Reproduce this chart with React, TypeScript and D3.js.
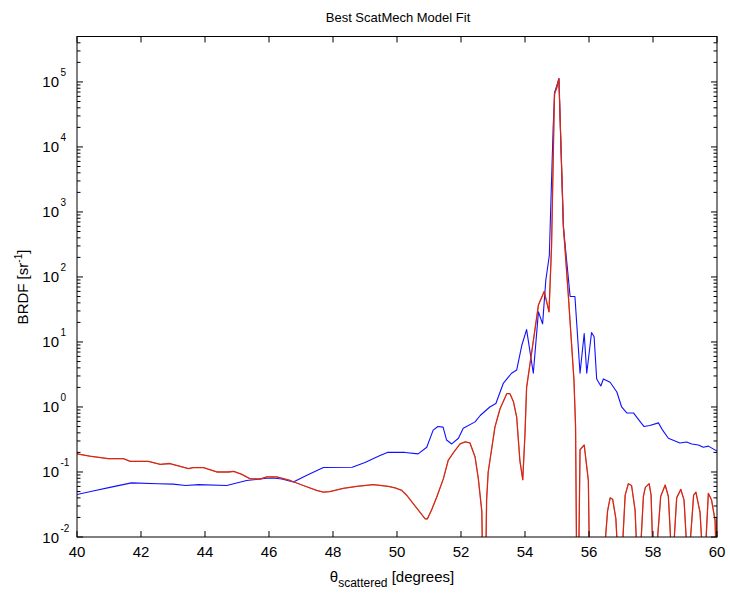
import React from 'react';
import * as d3 from 'd3';

// Measured BRDF (blue)
const blueTheta = [40.0, 40.5, 41.03, 41.7, 42.53, 43.0, 43.4, 43.8, 44.68, 45.3, 45.93, 46.13, 46.4, 46.76, 47.2, 47.7, 48.6, 49.0, 49.47, 49.7, 50.25, 50.66, 50.93, 51.13, 51.28, 51.44, 51.55, 51.71, 51.92, 52.07, 52.44, 52.6, 52.9, 53.09, 53.32, 53.58, 53.74, 53.9, 54.05, 54.26, 54.42, 54.55, 54.65, 54.76, 54.8, 54.88, 54.93, 55.0, 55.06, 55.2, 55.41, 55.56, 55.72, 55.85, 55.93, 56.08, 56.16, 56.24, 56.37, 56.45, 56.66, 56.87, 57.02, 57.18, 57.39, 57.49, 57.72, 57.9, 58.17, 58.3, 58.48, 58.84, 59.05, 59.21, 59.42, 59.57, 59.73, 60.0];
const blueBrdf = [0.045, 0.051, 0.058, 0.068, 0.066, 0.065, 0.062, 0.064, 0.062, 0.074, 0.08, 0.081, 0.078, 0.07, 0.09, 0.117, 0.118, 0.14, 0.18, 0.2, 0.2, 0.19, 0.24, 0.44, 0.5, 0.49, 0.31, 0.27, 0.33, 0.47, 0.59, 0.74, 1.0, 1.13, 2.3, 3.3, 3.7, 8.9, 15.5, 3.3, 29, 19, 89, 214, 1000, 2e4, 7e4, 9e4, 1.12e5, 590, 50, 50, 3.3, 13.5, 3.3, 14, 12, 2.7, 2.1, 2.7, 2.4, 1.7, 1.0, 0.81, 0.81, 0.7, 0.5, 0.52, 0.57, 0.44, 0.33, 0.28, 0.29, 0.27, 0.26, 0.24, 0.25, 0.21];

// Best ScatMech model (red)
const redTheta = [40.0, 40.4, 40.98, 41.45, 41.66, 42.23, 42.6, 42.9, 43.48, 43.63, 43.95, 44.37, 44.73, 44.9, 45.15, 45.4, 45.72, 45.93, 46.24, 46.66, 47.07, 47.49, 47.7, 47.9, 48.32, 48.74, 49.26, 49.73, 49.94, 50.15, 50.3, 50.5, 50.72, 50.88, 50.95, 51.08, 51.24, 51.45, 51.6, 51.77, 51.97, 52.13, 52.28, 52.44, 52.54, 52.65, 52.73, 52.8, 52.85, 53.06, 53.22, 53.43, 53.53, 53.64, 53.74, 53.84, 53.93, 54.0, 54.05, 54.21, 54.42, 54.6, 54.75, 54.83, 54.92, 54.99, 55.06, 55.2, 55.35, 55.53, 55.58, 55.64, 55.68, 55.72, 55.85, 55.98, 56.06, 56.3, 56.47, 56.58, 56.66, 56.74, 56.84, 56.9, 57.03, 57.13, 57.23, 57.33, 57.44, 57.5, 57.6, 57.7, 57.76, 57.88, 57.94, 58.0, 58.1, 58.24, 58.38, 58.48, 58.58, 58.63, 58.74, 58.87, 58.97, 59.07, 59.13, 59.27, 59.34, 59.47, 59.55, 59.63, 59.73, 59.83, 59.94, 59.97, 60.0];
const redBrdf = [0.19, 0.175, 0.16, 0.16, 0.146, 0.146, 0.131, 0.135, 0.113, 0.117, 0.117, 0.1, 0.1, 0.102, 0.092, 0.079, 0.078, 0.084, 0.084, 0.074, 0.062, 0.052, 0.049, 0.05, 0.056, 0.06, 0.064, 0.06, 0.057, 0.052, 0.044, 0.033, 0.024, 0.019, 0.019, 0.026, 0.041, 0.079, 0.151, 0.2, 0.27, 0.29, 0.28, 0.17, 0.08, 0.025, 0.0001, 0.037, 0.1, 0.49, 0.94, 1.6, 1.6, 1.2, 0.7, 0.15, 0.076, 0.39, 2.0, 7.0, 37, 60, 29, 300, 6.6e4, 8e4, 1.12e5, 600, 56, 2.6, 0.5, 0.0001, 0.005, 0.22, 0.26, 0.074, 0.0001, 0.0001, 0.005, 0.025, 0.04, 0.038, 0.019, 0.005, 0.005, 0.044, 0.066, 0.062, 0.026, 0.005, 0.005, 0.042, 0.058, 0.066, 0.044, 0.005, 0.005, 0.042, 0.063, 0.042, 0.005, 0.005, 0.04, 0.054, 0.037, 0.005, 0.005, 0.044, 0.049, 0.024, 0.005, 0.005, 0.047, 0.037, 0.018, 0.005, 0.02];

const xTickValues = [40, 42, 44, 46, 48, 50, 52, 54, 56, 58, 60];
const yTickExponents = [-2, -1, 0, 1, 2, 3, 4, 5];

const FONT = '"Liberation Sans", Arial, Helvetica, sans-serif';

export default function App() {
  const W = 730, H = 596;
  const left = 77, right = 717, top = 36.5, bottom = 537;
  const x = d3.scaleLinear().domain([40, 60]).range([left, right]);
  const y = d3.scaleLog().domain([1e-2, 5e5]).range([bottom, top]);

  const line = d3.line<[number, number]>().x(d => x(d[0])).y(d => y(d[1]));
  const blueData = blueTheta.map((t, i) => [t, blueBrdf[i]] as [number, number]);
  const redData = redTheta.map((t, i) => [t, redBrdf[i]] as [number, number]);

  const minor: number[] = [];
  for (let e = -2; e <= 5; e++) {
    for (let k = 2; k <= 9; k++) {
      const v = k * Math.pow(10, e);
      if (v <= 5e5 * 1.0001) minor.push(v);
    }
  }

  const majLen = 6, minLen = 3.5;

  return (
    <svg width={W} height={H} style={{ position: 'absolute', left: 0, top: 0, background: '#fff' }} fontFamily={FONT}>
      <defs>
        <clipPath id="plotClip">
          <rect x={left} y={top} width={right - left} height={bottom - top} />
        </clipPath>
      </defs>
      <rect x={0} y={0} width={W} height={H} fill="#fff" />
      <g clipPath="url(#plotClip)">
        <path d={line(blueData) || ''} fill="none" stroke="#1010ff" strokeWidth={1.1} strokeLinejoin="round" />
        <path d={line(redData) || ''} fill="none" stroke="#b8452c" strokeWidth={1.3} strokeLinejoin="round" />
        <path d={line(redData) || ''} fill="none" stroke="#f01208" strokeWidth={0.7} strokeLinejoin="round" />
      </g>
      {/* frame */}
      <rect x={left} y={top} width={right - left} height={bottom - top} fill="none" stroke="#000" strokeWidth={1} />
      {/* x ticks */}
      {xTickValues.map(v => (
        <g key={'xt' + v}>
          <line x1={x(v)} x2={x(v)} y1={bottom} y2={bottom - majLen} stroke="#000" strokeWidth={1} />
          <line x1={x(v)} x2={x(v)} y1={top} y2={top + majLen} stroke="#000" strokeWidth={1} />
          <text x={x(v)} y={557} fontSize={15} textAnchor="middle" fill="#000">{v}</text>
        </g>
      ))}
      {/* y ticks */}
      {yTickExponents.map(e => {
        const yy = y(Math.pow(10, e));
        return (
          <g key={'yt' + e}>
            <line x1={left} x2={left + majLen} y1={yy} y2={yy} stroke="#000" strokeWidth={1} />
            <line x1={right} x2={right - majLen} y1={yy} y2={yy} stroke="#000" strokeWidth={1} />
            <text x={59} y={yy + 5.5} fontSize={15} textAnchor="end" fill="#000">10</text>
            <text x={60.5} y={yy - 5.5} fontSize={10} textAnchor="start" fill="#000">{e}</text>
          </g>
        );
      })}
      {minor.map((v, i) => (
        <g key={'ym' + i}>
          <line x1={left} x2={left + minLen} y1={y(v)} y2={y(v)} stroke="#000" strokeWidth={1} />
          <line x1={right} x2={right - minLen} y1={y(v)} y2={y(v)} stroke="#000" strokeWidth={1} />
        </g>
      ))}
      {/* title */}
      <text x={398} y={22} fontSize={13} textAnchor="middle" fill="#000">Best ScatMech Model Fit</text>
      {/* x label */}
      <text x={392} y={582} fontSize={15} textAnchor="middle" fill="#000">
        <tspan>θ</tspan>
        <tspan fontSize={12} dy={5}>scattered</tspan>
        <tspan dy={-5}> [degrees]</tspan>
      </text>
      {/* y label */}
      <text transform="translate(28,287) rotate(-90)" fontSize={15} textAnchor="middle" fill="#000">
        <tspan>BRDF [sr</tspan>
        <tspan fontSize={10} dy={-6}>-1</tspan>
        <tspan dy={6}>]</tspan>
      </text>
    </svg>
  );
}
